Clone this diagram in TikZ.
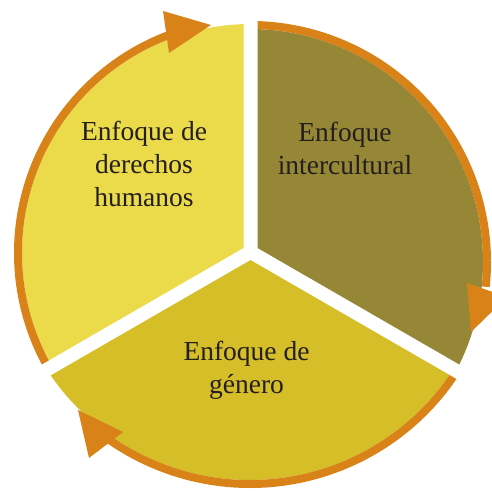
\documentclass[tikz,border=0pt]{standalone}
\usepackage{fontspec}
\setmainfont{Liberation Serif}
\definecolor{cyel}{RGB}{235,219,75}
\definecolor{coli}{RGB}{150,135,54}
\definecolor{cgold}{RGB}{214,190,41}
\definecolor{corange}{RGB}{216,130,24}
\definecolor{ctext}{RGB}{35,31,32}
\tikzset{
  ring/.style={draw=corange, line width=8pt},
  arrowhead/.style={fill=corange},
  lbl/.style={text=ctext, font=\fontsize{27.5}{33}\selectfont, align=center, inner sep=0pt},
}
\begin{document}
\begin{tikzpicture}[x=1pt,y=1pt]
\useasboundingbox (0,0) rectangle (492,490);
\fill[white] (0,0) rectangle (492,490);
\coordinate (C) at (250.5,238);
\coordinate (Ay) at ([shift={(150:8.08)}]C);
\coordinate (Ao) at ([shift={(30:8.08)}]C);
\coordinate (Ag) at ([shift={(270:8.08)}]C);
\coordinate (Yc) at (251,237);
\coordinate (Oc) at (250,228);
\coordinate (Gc) at (250,252);
% yellow sector
\begin{scope}
  \clip (Ay) -- ([shift={(90:500)}]Ay) -- ([shift={(150:1000)}]Ay) -- ([shift={(210:500)}]Ay) -- cycle;
  \fill[cyel] (Yc) circle[radius=229];
  \draw[ring] ([shift={(220:233)}]Yc) arc[start angle=220, end angle=111, radius=233];
\end{scope}
% olive sector
\begin{scope}
  \clip (Ao) -- ([shift={(90:500)}]Ao) -- ([shift={(30:1000)}]Ao) -- ([shift={(-30:500)}]Ao) -- cycle;
  \fill[coli] (Oc) circle[radius=233];
  \draw[ring] ([shift={(100:237)}]Oc) arc[start angle=100, end angle=-6, radius=237];
\end{scope}
% gold sector
\begin{scope}
  \clip (Ag) -- ([shift={(210:500)}]Ag) -- ([shift={(270:1000)}]Ag) -- ([shift={(330:500)}]Ag) -- cycle;
  \fill[cgold] (Gc) circle[radius=242];
  \draw[ring] ([shift={(-20:246)}]Gc) arc[start angle=-20, end angle=-125, radius=246];
\end{scope}
% arrowheads
\fill[arrowhead] (211,465) -- (163,479) -- (169,437) -- cycle;
\fill[arrowhead] (471,158) -- (467,207) -- (507,193) -- cycle;
\fill[arrowhead] (78,80) -- (123,58) -- (89,32) -- cycle;
% labels (anchor base = baseline of the last line)
\node[lbl, anchor=base] (tdh) at (144,283.3) {Enfoque de\\derechos\\humanos};
\node[lbl, anchor=base] (tin) at (345,315) {Enfoque\\intercultural};
\node[lbl, anchor=base] (tge) at (246.5,97) {Enfoque de\\género};
\end{tikzpicture}
\end{document}
